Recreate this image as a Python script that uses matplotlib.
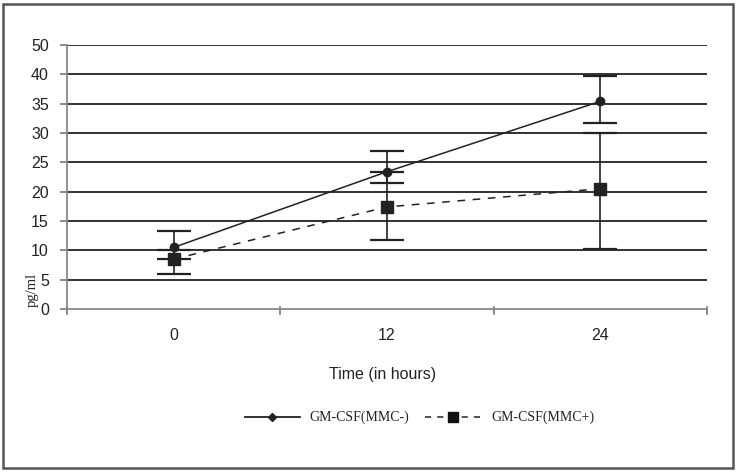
import matplotlib
matplotlib.use("Agg")
import matplotlib.pyplot as plt
from matplotlib.patches import Rectangle
from matplotlib.lines import Line2D

categories = ["0", "12", "24"]
mmc_minus = [10.5, 23.4, 35.4]
mmc_minus_low = [8.6, 21.4, 31.7]
mmc_minus_high = [13.3, 26.9, 39.7]
mmc_plus = [8.5, 17.4, 20.5]
mmc_plus_low = [6.0, 11.7, 10.25]
mmc_plus_high = [10.0, 23.3, 30.05]
y_ticks = [0, 5, 10, 15, 20, 25, 30, 35, 40, 45]
y_tick_labels = ["0", "5", "10", "15", "20", "25", "30", "35", "40", "50"]

W, H = 737, 472
fig = plt.figure(figsize=(W / 100, H / 100), dpi=100)
fig.patch.set_facecolor("white")

# outer frame
fig.patches.append(Rectangle((3 / W, 4 / H), 730 / W, 464 / H, transform=fig.transFigure,
                             fill=False, edgecolor="#555555", linewidth=1.8))

ax = fig.add_axes([67 / W, 1 - 309 / H, 640 / W, 264 / H])
x = list(range(len(categories)))

for yv in y_ticks[1:]:
    ax.axhline(yv, color="#222222", linewidth=1.3, zorder=1)

ax.errorbar(x, mmc_minus,
            yerr=[[m - l for m, l in zip(mmc_minus, mmc_minus_low)],
                  [h - m for m, h in zip(mmc_minus, mmc_minus_high)]],
            fmt="none", ecolor="#222222", elinewidth=1.2, capsize=12, capthick=1.6, zorder=3)
ax.errorbar(x, mmc_plus,
            yerr=[[m - l for m, l in zip(mmc_plus, mmc_plus_low)],
                  [h - m for m, h in zip(mmc_plus, mmc_plus_high)]],
            fmt="none", ecolor="#222222", elinewidth=1.2, capsize=12, capthick=1.6, zorder=3)
ax.plot(x, mmc_minus, color="#222222", linewidth=1.1, marker="o", markersize=6,
        zorder=4)
ax.plot(x, mmc_plus, color="#222222", linewidth=1.1, linestyle=(0, (5, 5)),
        marker="s", markersize=8, zorder=4)

ax.set_xlim(-0.5, 2.5)
ax.set_ylim(0, 45)
ax.set_yticks(y_ticks)
ax.set_yticklabels(y_tick_labels, family="Liberation Sans", fontsize=11.5, color="#222222")
ax.set_xticks(x)
ax.set_xticklabels(categories, family="Liberation Sans", fontsize=11.5, color="#222222")
ax.tick_params(axis="x", length=0, pad=14)
ax.tick_params(axis="y", length=5, width=1.2, color="#777777", pad=8)
for b in [-0.5, 0.5, 1.5, 2.5]:
    ax.plot([b, b], [-0.9, 0.3], color="#777777", linewidth=1.2, clip_on=False, zorder=2)

for s in ["top", "right"]:
    ax.spines[s].set_visible(False)
ax.spines["left"].set_color("#888888")
ax.spines["left"].set_linewidth(1.3)
ax.spines["bottom"].set_color("#888888")
ax.spines["bottom"].set_linewidth(1.3)

fig.text(383 / W, 1 - 374 / H, "Time (in hours)", ha="center", va="center",
         family="Liberation Sans", fontsize=11.5, color="#222222")
fig.text(32 / W, 1 - 290 / H, "pg/ml", rotation=90, ha="center", va="center",
         family="Liberation Serif", fontsize=10.5, color="#222222")

# legend
ly = 1 - 417 / H
fig.lines.append(Line2D([245 / W, 300 / W], [ly, ly], transform=fig.transFigure,
                        color="#222222", linewidth=1.3))
fig.lines.append(Line2D([272 / W], [ly], transform=fig.transFigure, color="#222222",
                        marker="D", markersize=4, linestyle="none"))
fig.text(309 / W, ly, "GM-CSF(MMC-)", ha="left", va="center", family="Liberation Serif",
         fontsize=10, color="#222222")
fig.lines.append(Line2D([425 / W, 480 / W], [ly, ly], transform=fig.transFigure,
                        color="#222222", linewidth=1.1, linestyle=(0, (4, 4))))
fig.lines.append(Line2D([453 / W], [ly], transform=fig.transFigure, color="#111111",
                        marker="s", markersize=7, linestyle="none"))
fig.text(491 / W, ly, "GM-CSF(MMC+)", ha="left", va="center", family="Liberation Serif",
         fontsize=10, color="#222222")

fig.savefig("out.png", dpi=100)
